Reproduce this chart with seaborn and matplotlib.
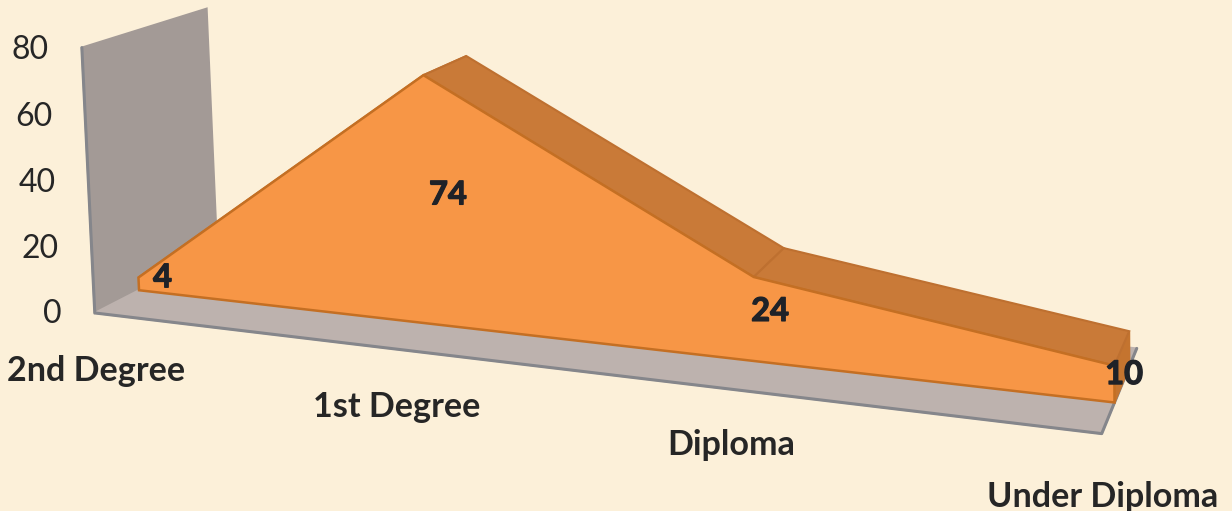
# 3D style area chart, drawn on a flat axes through a small camera matrix
import numpy as np
import pandas as pd
import matplotlib
matplotlib.use("Agg")
import matplotlib.pyplot as plt
import matplotlib.patheffects as pe
import seaborn as sns

categories = ["2nd Degree", "1st Degree", "Diploma", "Under Diploma"]
values = [4, 74, 24, 10]
y_ticks = [0, 20, 40, 60, 80]

BG = "#FCF0D9"
FRONT_D, BACK_D = 0.34, 0.77
LABEL_NUDGE = [0, 0, -2, 5]

# maps (category, depth, value / 40, 1) to homogeneous pixels
CAMERA = np.array([
    [281.8852, 144.1381, -6.927564, 94.78742],
    [19.0583, -37.67802, -132.9351, 312.9603],
    [-0.04879734, 0.1005239, -0.005591424, 1.0],
])


def project(c, d, v):
    h = CAMERA @ np.array([c, d, v / 40, 1.0])
    return h[0] / h[2], h[1] / h[2]


def face(ax, corners, color, edge=None, lw=1.5, z=1):
    pts = np.array([project(*p) for p in corners])
    ax.fill(pts[:, 0], pts[:, 1], facecolor=color, edgecolor=edge or color, linewidth=lw, zorder=z)


sns.set_theme(style="white")
plt.rcParams["font.family"] = ["Lato", "DejaVu Sans"]
fig = plt.figure(figsize=(12.32, 5.11), dpi=100, facecolor=BG)
ax = fig.add_axes([0, 0, 1, 1])

last = len(categories) - 1
top_val = max(y_ticks)

# wall and floor
face(ax, [(0, 0, 0), (0, 1, 0), (0, 1, top_val), (0, 0, top_val)], "#A39A96", z=1)
face(ax, [(0, 0, 0), (last, 0, 0), (last, 1, 0), (0, 1, 0)], "#BDB2AE", z=2)
edge_df = pd.DataFrame([project(0, 0, top_val), project(0, 0, 0), project(last, 0, 0), project(last, 1, 0)],
                       columns=["x", "y"])
sns.lineplot(data=edge_df, x="x", y="y", sort=False, estimator=None, color="#85868B", linewidth=2.2, ax=ax, zorder=3)

# area: end cap, top strips, front face
face(ax, [(last, FRONT_D, 0), (last, BACK_D, 0), (last, BACK_D, values[-1]), (last, FRONT_D, values[-1])],
     "#C4742F", z=4)
for i in range(last):
    face(ax, [(i, FRONT_D, values[i]), (i + 1, FRONT_D, values[i + 1]),
              (i + 1, BACK_D, values[i + 1]), (i, BACK_D, values[i])], "#C97A38", "#BE7030", z=5)
outline = [(0, FRONT_D, 0)] + [(i, FRONT_D, v) for i, v in enumerate(values)] + [(last, FRONT_D, 0)]
face(ax, outline, "#F79646", "#C46F23", lw=1.8, z=6)

# labels
for v in y_ticks:
    x, y = project(0, 0, v)
    ax.text(x - 33, y + 1 + v * 0.02, str(v), ha="right", va="center", fontsize=23, color="#262626", zorder=8)
for i, name in enumerate(categories):
    x, y = project(i, 0, 0)
    ax.text(x + 1, y + 58 + LABEL_NUDGE[i], name, ha="center", va="center", fontsize=24.6, fontweight="bold",
            color="#262626", zorder=8)
for i, v in enumerate(values):
    x, y = project(i, 0.5, v / 2)
    ax.text(x + 4, y + 4, str(v), ha="center", va="center", fontsize=23.5, fontweight="bold", color="#1F2228",
            zorder=8, path_effects=[pe.withStroke(linewidth=0.9, foreground="#1F2228")])

ax.set_xlim(0, 1232)
ax.set_ylim(511, 0)
ax.axis("off")
fig.savefig("out.png", dpi=100, facecolor=BG)
